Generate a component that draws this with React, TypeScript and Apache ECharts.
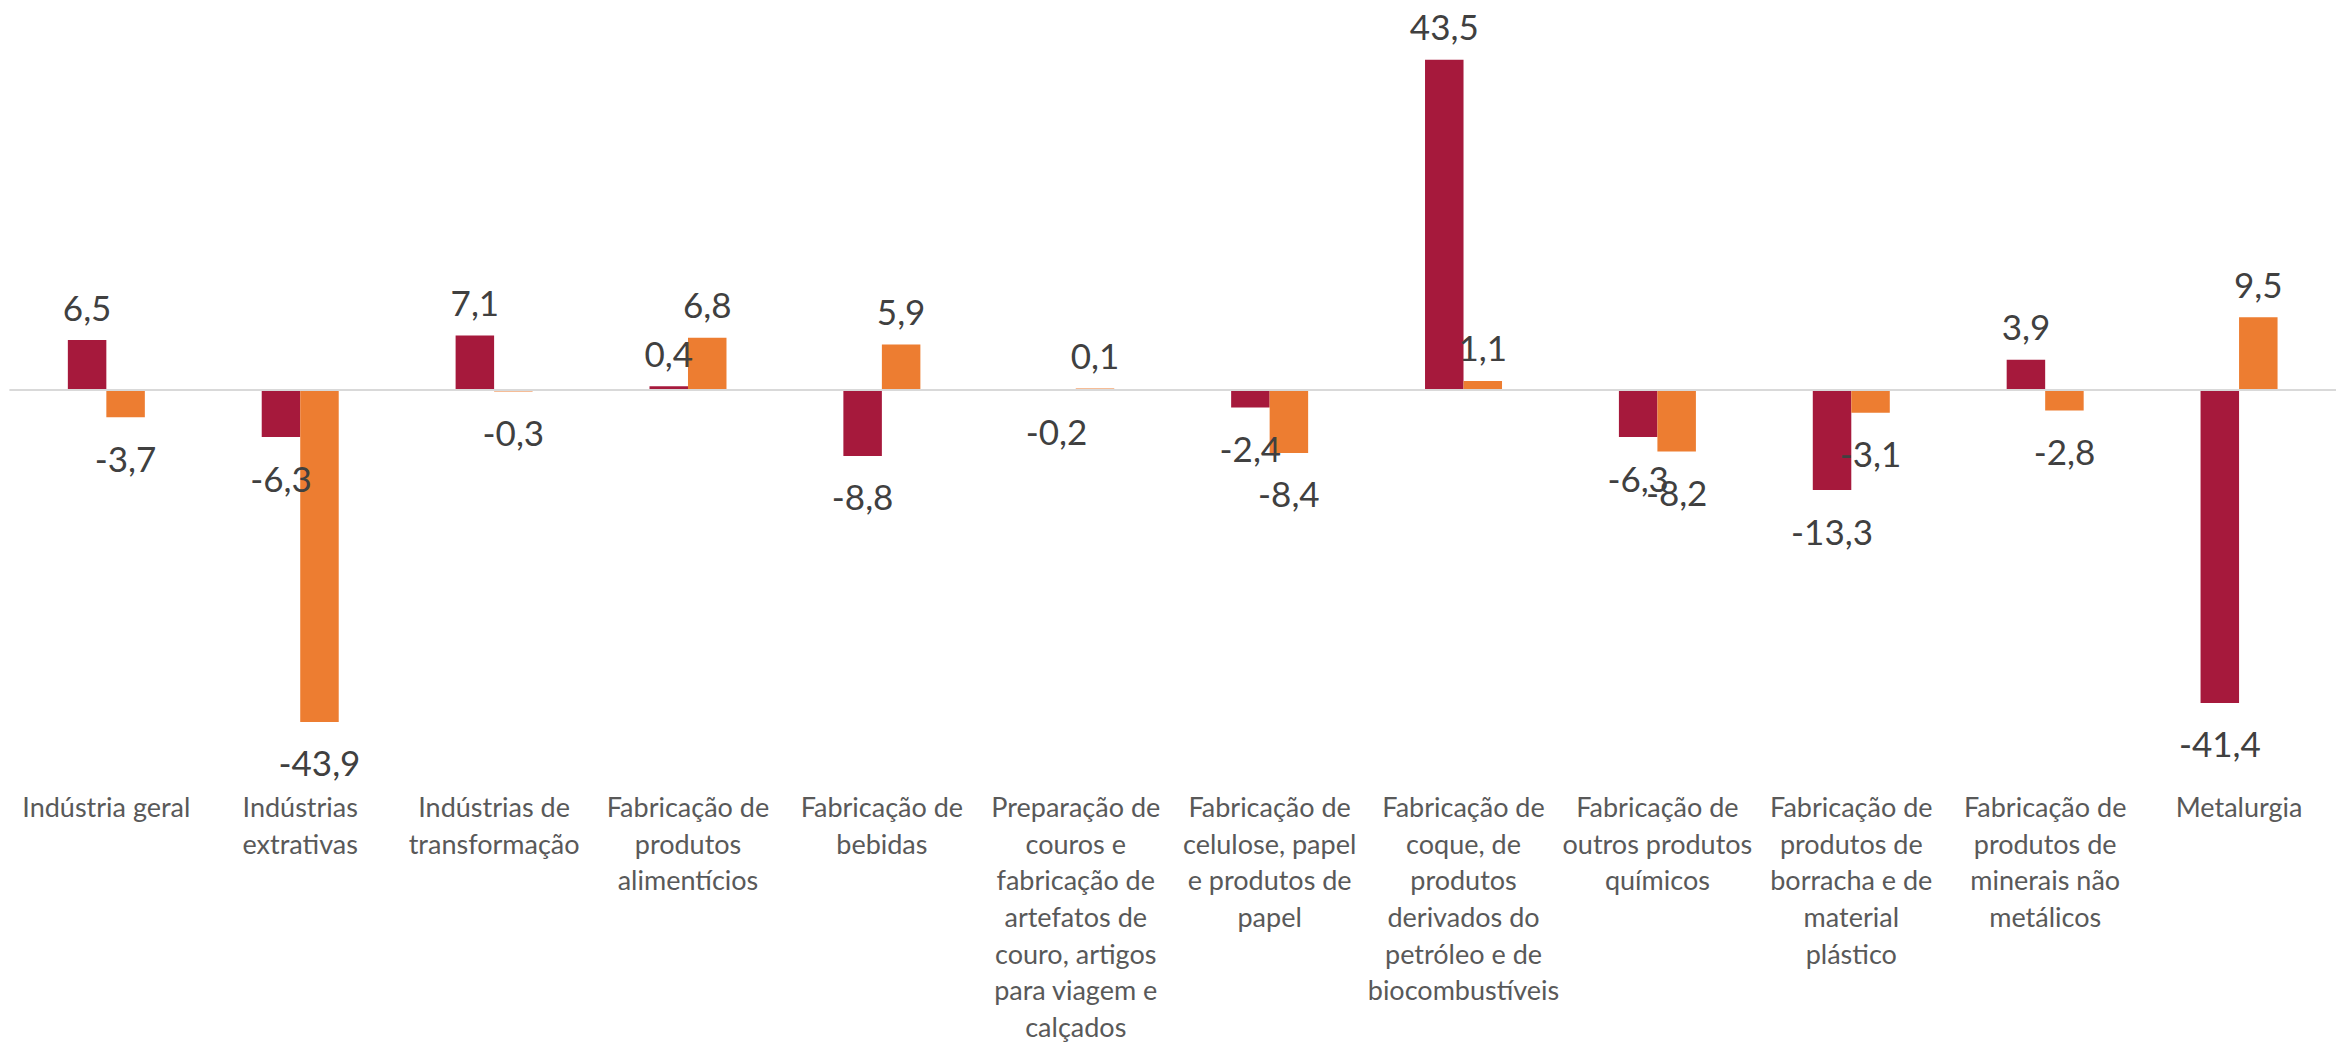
import React, { useEffect, useRef } from "react";
import * as echarts from "echarts";

const categories: string[] = [
  "Indústria geral",
  "Indústrias\nextrativas",
  "Indústrias de\ntransformação",
  "Fabricação de\nprodutos\nalimentícios",
  "Fabricação de\nbebidas",
  "Preparação de\ncouros e\nfabricação de\nartefatos de\ncouro, artigos\npara viagem e\ncalçados",
  "Fabricação de\ncelulose, papel\ne produtos de\npapel",
  "Fabricação de\ncoque, de\nprodutos\nderivados do\npetróleo e de\nbiocombustíveis",
  "Fabricação de\noutros produtos\nquímicos",
  "Fabricação de\nprodutos de\nborracha e de\nmaterial\nplástico",
  "Fabricação de\nprodutos de\nminerais não\nmetálicos",
  "Metalurgia",
];

const seriesA: number[] = [6.5, -6.3, 7.1, 0.4, -8.8, -0.2, -2.4, 43.5, -6.3, -13.3, 3.9, -41.4];
const seriesB: number[] = [-3.7, -43.9, -0.3, 6.8, 5.9, 0.1, -8.4, 1.1, -8.2, -3.1, -2.8, 9.5];

const colorA = "#A6193C";
const colorB = "#ED7D31";

const fmt = (v: number) => v.toFixed(1).replace(".", ",");

function buildData(values: number[]) {
  return values.map((v) => ({
    value: v,
    label: {
      position: v >= 0 ? "top" : "bottom",
      distance: v >= 0 ? 16 : 23,
    },
  }));
}

export default function App() {
  const ref = useRef<HTMLDivElement>(null);
  useEffect(() => {
    if (!ref.current) return;
    const chart = echarts.init(ref.current, undefined, { renderer: "svg" });
    const labelStyle = {
      show: true,
      fontFamily: "Lato",
      fontSize: 35,
      color: "#404040",
      formatter: (p: any) => fmt(p.value),
    };
    chart.setOption({
      animation: false,
      backgroundColor: "#ffffff",
      grid: { left: 9.4, right: 12, top: 10.5, bottom: 265.5 },
      xAxis: {
        type: "category",
        data: categories,
        axisLine: { show: false, onZero: false },
        axisTick: { show: false },
        splitLine: { show: false },
        axisLabel: {
          interval: 0,
          fontFamily: "Lato",
          fontSize: 27,
          lineHeight: 36.7,
          color: "#595959",
          margin: 20,
          align: "center",
        },
      },
      yAxis: {
        type: "value",
        min: -50,
        max: 50,
        interval: 50,
        show: false,
        splitLine: { show: false },
      },
      series: [
        {
          type: "bar",
          name: "A",
          data: buildData(seriesA),
          barWidth: 38.5,
          barGap: "0%",
          itemStyle: { color: colorA },
          label: labelStyle,
          markLine: {
            silent: true,
            symbol: ["none", "none"],
            label: { show: false },
            lineStyle: { color: "#d9d9d9", width: 2, type: "solid" },
            data: [{ yAxis: 0 }],
            z: 10,
          },
        },
        {
          type: "bar",
          name: "B",
          data: buildData(seriesB),
          barWidth: 38.5,
          barGap: "0%",
          itemStyle: { color: colorB },
          label: labelStyle,
        },
      ],
    });
    return () => chart.dispose();
  }, []);
  return (
    <div
      ref={ref}
      style={{ position: "fixed", left: 0, top: 0, width: 2348, height: 1045 }}
    />
  );
}
